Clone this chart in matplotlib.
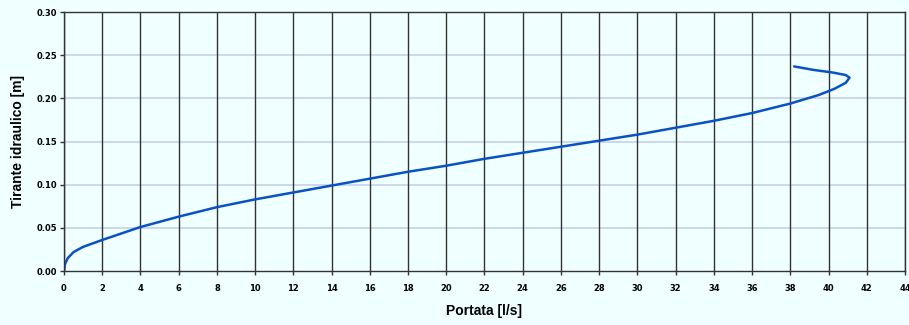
import matplotlib
matplotlib.use("Agg")
import matplotlib.pyplot as plt
import numpy as np

# scala di deflusso: portata [l/s] vs tirante [m]
portata = [0.0, 0.05, 0.2, 0.5, 1.0, 2.0, 4.0, 6.0, 8.0, 10.0, 12.0, 14.0, 16.0,
           18.0, 20.0, 22.0, 24.0, 26.0, 28.0, 30.0, 32.0, 34.0, 36.0, 38.0,
           39.5, 40.3, 40.9, 41.1, 40.9, 40.2, 39.2, 38.2]
tirante = [0.0, 0.008, 0.015, 0.022, 0.028, 0.036, 0.051, 0.063, 0.074, 0.083,
           0.091, 0.099, 0.107, 0.115, 0.122, 0.130, 0.137, 0.144, 0.151, 0.158,
           0.166, 0.174, 0.183, 0.194, 0.204, 0.211, 0.218, 0.224, 0.227, 0.230,
           0.233, 0.237]

xticks = np.arange(0, 45, 2)
yticks = np.arange(0, 0.301, 0.05)

bg = "#f0ffff"
fig = plt.figure(figsize=(9.09, 3.25), dpi=100, facecolor=bg)
ax = fig.add_axes([0.0704, 0.166, 0.9252, 0.797])
ax.set_facecolor(bg)

ax.plot(portata, tirante, color="#0a52c4", lw=1.8, solid_capstyle="round")

ax.set_xlim(0, 44)
ax.set_ylim(0, 0.30)
ax.set_xticks(xticks)
ax.set_yticks(yticks)
ax.set_xticklabels([str(t) for t in xticks])
ax.set_yticklabels([f"{t:.2f}" for t in yticks])

for xv in xticks:
    ax.axvline(xv, color="#333333", lw=1.0, zorder=1)
for yv in yticks[1:-1]:
    ax.axhline(yv, color="#c4d2e6", lw=1.2, zorder=0)

for s in ax.spines.values():
    s.set_color("#333333")
    s.set_linewidth(1.0)

ax.tick_params(axis="x", labelsize=6, length=3, width=1, color="#333333", pad=6)
ax.tick_params(axis="y", labelsize=6, length=3, width=1, color="#333333", pad=2)
for lab in ax.get_xticklabels() + ax.get_yticklabels():
    lab.set_fontweight("bold")

lab_font = dict(fontsize=10, fontweight="bold", family="Liberation Sans")
ax.set_xlabel("Portata [l/s]", labelpad=8, **lab_font)
ax.set_ylabel("Tirante idraulico [m]", labelpad=8, **lab_font)

fig.savefig("out.png", dpi=100, facecolor=bg)
